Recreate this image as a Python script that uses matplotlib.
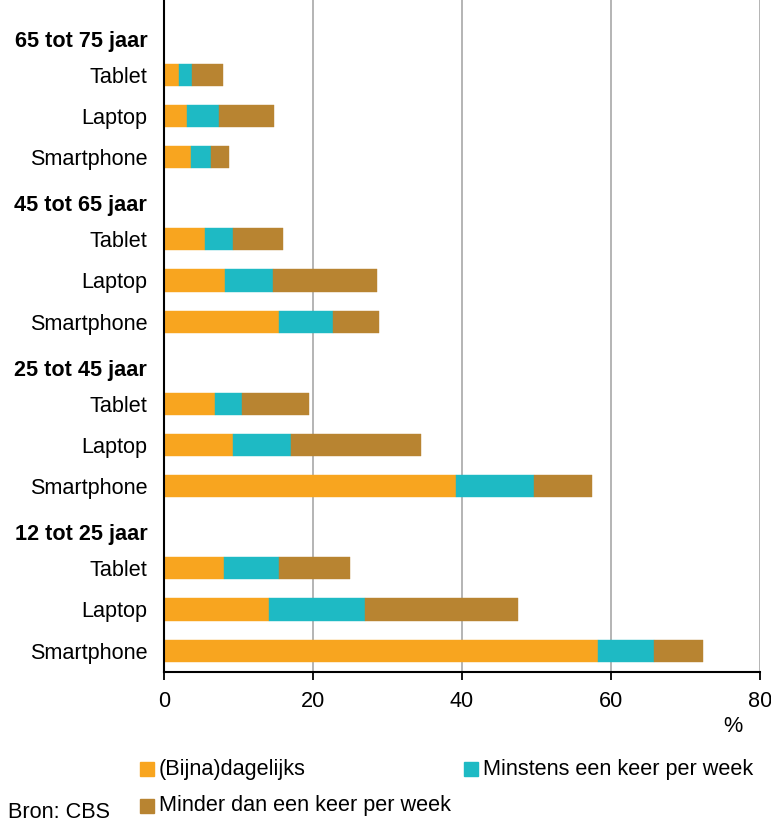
## gebruik van smartphone, laptop en tablet naar leeftijd
import numpy as np
import matplotlib
matplotlib.use("Agg")
import matplotlib.pyplot as plt
from matplotlib.patches import Rectangle

plt.rcParams["font.family"] = ["Liberation Sans", "DejaVu Sans"]

## data, van boven naar beneden
groepen = ["65 tot 75 jaar", "45 tot 65 jaar", "25 tot 45 jaar", "12 tot 25 jaar"]
apparaten = ["Tablet", "Laptop", "Smartphone"]
dagelijks = [2.0, 3.1, 3.6, 5.5, 8.2, 15.5, 6.8, 9.2, 39.2, 8.1, 14.1, 58.2]
wekelijks = [1.7, 4.3, 2.7, 3.8, 6.4, 7.2, 3.7, 7.9, 10.5, 7.4, 12.9, 7.6]
minder = [4.2, 7.3, 2.4, 6.7, 14.0, 6.2, 8.9, 17.4, 7.8, 9.4, 20.5, 6.5]
reeksen = ["(Bijna)dagelijks", "Minstens een keer per week", "Minder dan een keer per week"]
kleuren = ["#F8A51F", "#1EBAC4", "#B88431"]
xticks = [0, 20, 40, 60, 80]

fs = 15.6
fig = plt.figure(figsize=(7.71, 8.26), dpi=100)
ax = fig.add_axes([164 / 771, 1 - 672 / 826, (760 - 164) / 771, 672 / 826])

## posities: elke groep heeft een kopregel en drie balken
ypos, labels = [], []
kop_pos = []
for g in range(len(groepen)):
    kop_pos.append(4 * g + 0.12)
    for a in range(len(apparaten)):
        ypos.append(4 * g + 1 + a)
        labels.append(apparaten[a])

ypos = np.array(ypos)
links = np.zeros(len(ypos))
for waarden, kleur in zip([dagelijks, wekelijks, minder], kleuren):
    ax.barh(ypos, waarden, left=links, height=0.54, color=kleur,
            edgecolor=kleur, linewidth=0.3, zorder=3)
    links = links + np.array(waarden)

ax.set_xlim(0, 80)
ax.set_ylim(15.52, -0.82)
ax.set_xticks(xticks)
ax.set_xticklabels([str(x) for x in xticks], fontsize=fs)
ax.tick_params(axis="x", length=6, width=1.3, color="black", pad=8)

alle_pos = list(ypos) + kop_pos
alle_labels = labels + groepen
ax.set_yticks(alle_pos)
ax.set_yticklabels(alle_labels, fontsize=fs)
for t in ax.get_yticklabels():
    if t.get_text() in groepen:
        t.set_fontweight("bold")
ax.tick_params(axis="y", length=0, pad=12)

ax.grid(axis="x", color="#A8A8A8", linewidth=1.2, zorder=0)
ax.set_axisbelow(True)
for s in ["top", "right"]:
    ax.spines[s].set_visible(False)
ax.spines["left"].set_linewidth(1.5)
ax.spines["bottom"].set_linewidth(1.5)
ax.spines["left"].set_zorder(4)

fig.text(733 / 771, 1 - 726 / 826, "%", fontsize=fs, ha="center", va="center")

## legenda handmatig
legenda = [(140, 762, 0), (464, 762, 1), (140, 799, 2)]
for x, y, i in legenda:
    fig.patches.append(Rectangle((x / 771, 1 - (y + 14) / 826), 14 / 771, 14 / 826,
                                 transform=fig.transFigure, color=kleuren[i]))
    fig.text((x + 19) / 771, 1 - (y + 7) / 826, reeksen[i], fontsize=fs,
             ha="left", va="center")

fig.text(8 / 771, 1 - 812 / 826, "Bron: CBS", fontsize=fs, ha="left", va="center")

fig.savefig("out.png", dpi=100)
